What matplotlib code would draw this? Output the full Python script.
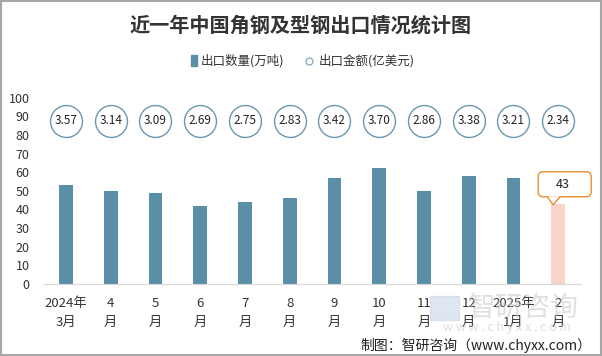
import matplotlib
matplotlib.use("Agg")
import matplotlib.pyplot as plt
import matplotlib.transforms as mtransforms
from matplotlib.patches import FancyBboxPatch, Polygon
import numpy as np

plt.rcParams['font.family'] = ['Noto Sans CJK SC', 'DejaVu Sans']

months = ["2024年\n3月", "4\n月", "5\n月", "6\n月", "7\n月", "8\n月",
          "9\n月", "10\n月", "11\n月", "12\n月", "2025年\n1月", "2\n月"]
quantity = [53, 50, 49, 42, 44, 46, 57, 62, 50, 58, 57, 43]   # 万吨
amount = [3.57, 3.14, 3.09, 2.69, 2.75, 2.83, 3.42, 3.70, 2.86, 3.38, 3.21, 2.34]  # 亿美元

bar_color = "#5B8FA8"
last_color = "#F8D3CA"
text_color = "#333333"
callout_color = "#EE8C2C"

fig = plt.figure(figsize=(6.02, 3.56), dpi=100)
ax = fig.add_axes([0.0724, 0.203, 0.892, 0.5225])

x = np.arange(len(months))
colors = [bar_color] * (len(x) - 1) + [last_color]
ax.bar(x, quantity, width=0.31, color=colors, zorder=2)

# amount circles, drawn in a fixed row near the top
row_y = 87.5
ax.plot(x, [row_y] * len(x), linestyle="none", marker="o", markersize=23,
        markerfacecolor="white", markeredgecolor="#6A98AE", markeredgewidth=1.0,
        clip_on=False, zorder=3)
for xi, v in zip(x, amount):
    ax.text(xi, row_y, f"{v:.2f}", ha="center", va="center", fontsize=8.5,
            color="#222222", zorder=4)

# callout for the last bar (offsets in inches from the bar top)
xi, v = x[-1], quantity[-1]
tr = fig.dpi_scale_trans + mtransforms.ScaledTranslation(xi, v, ax.transData)
box = FancyBboxPatch((-0.20, 0.07), 0.53, 0.25,
                     boxstyle="round,pad=0,rounding_size=0.05",
                     transform=tr, fc="white", ec=callout_color, lw=1.0,
                     clip_on=False, zorder=5)
ax.add_patch(box)
ax.add_patch(Polygon([(-0.11, 0.075), (-0.05, -0.01), (0.02, 0.075)], closed=False,
                     transform=tr, fc="white", ec="none", clip_on=False, zorder=6))
ax.plot([-0.11, -0.05, 0.02], [0.07, -0.01, 0.07], transform=tr, color=callout_color,
        lw=1.0, clip_on=False, zorder=7)
ax.text(0.05, 0.19, str(v), transform=tr, ha="center", va="center", fontsize=9,
        color="#222222", zorder=8)

ax.set_xlim(-0.5, len(x) - 0.5)
ax.set_ylim(0, 100)
ax.set_yticks(range(0, 101, 10))
ax.set_xticks(x)
ax.set_xticklabels(months, fontsize=9.5, color=text_color, linespacing=1.6)
ax.tick_params(axis="y", length=0, labelsize=9, labelcolor=text_color, pad=10)
ax.tick_params(axis="x", length=0, pad=9.5)
for side in ["top", "right", "left"]:
    ax.spines[side].set_visible(False)
ax.spines["bottom"].set_color("#D9D9D9")

fig.text(0.5, 0.93, "近一年中国角钢及型钢出口情况统计图", ha="center", va="center",
         fontsize=14.5, fontweight="bold", color="#333333")

# legend
fig.patches.append(plt.Rectangle((0.3175, 0.815), 0.0105, 0.03, transform=fig.transFigure,
                                 color=bar_color))
fig.text(0.334, 0.83, "出口数量(万吨)", ha="left", va="center", fontsize=9, color=text_color)
fig.lines.append(plt.Line2D([0.514], [0.83], transform=fig.transFigure, marker="o",
                            markersize=5, markerfacecolor="white",
                            markeredgecolor="#8AAFC2", linestyle="none"))
fig.text(0.530, 0.83, "出口金额(亿美元)", ha="left", va="center", fontsize=9, color=text_color)

# watermark and source
fig.patches.append(plt.Rectangle((0.715, 0.10), 0.048, 0.068, transform=fig.transFigure,
                                 color="#C9D6E8", alpha=0.6, zorder=0))
fig.text(0.869, 0.135, "智研咨询", ha="center", va="center", fontsize=20,
         color="#C8C8C8", alpha=0.55)
fig.text(0.843, 0.079, "w w w . c h y x x . c o m", ha="center", va="center",
         fontsize=9, color="#C8C8C8", alpha=0.6)
fig.text(0.983, 0.03, "制图：智研咨询（www.chyxx.com）", ha="right", va="center",
         fontsize=10, color="#222222")

fig.patches.append(plt.Rectangle((0.001, 0.002), 0.997, 0.995, transform=fig.transFigure,
                                 fill=False, ec="#A6A6A6", lw=1.5))

fig.savefig("out.png", dpi=100)
